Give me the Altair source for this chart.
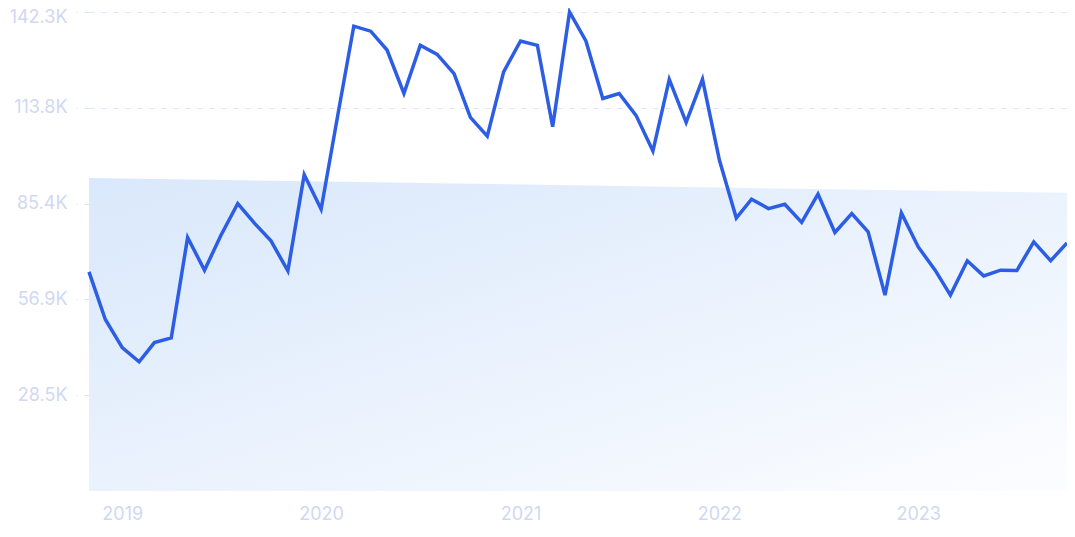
import altair as alt
import pandas as pd

# Monthly values, Nov 2018 .. Oct 2023
months = pd.date_range("2018-11-01", "2023-10-01", freq="MS").strftime("%Y-%m-%d").tolist()
values = [
    65100, 50950, 42600, 38400, 44100, 45500, 75300, 65600, 75900, 85400,
    79500, 74300, 65400, 94000, 83700, 112000, 138100, 136600, 131000, 118100,
    132400, 129700, 124000, 111000, 105400, 124500, 133700, 132400, 108200, 142300,
    133700, 116600, 118100, 111600, 101000, 122300, 109500, 122300, 98300, 81100,
    86700, 83900, 85200, 79800, 88200, 76800, 82400, 77000, 58200, 82600,
    72500, 65600, 58200, 68400, 63900, 65600, 65500, 74000, 68400, 73700,
]

# Trend band endpoints
trend_dates = ["2018-11-01", "2023-10-01"]
trend_values = [93000, 88600]

y_ticks = [28460, 56920, 85380, 113840, 142300]
year_ticks = [2019, 2020, 2021, 2022, 2023]

df = pd.DataFrame({"date": months, "value": values})
trend = pd.DataFrame({"date": trend_dates, "value": trend_values})

label_color = "#d0d8f2"
grid_color = "#dce3f6"

x_scale = alt.Scale(type="utc", domain=[months[0], months[-1]])
y_scale = alt.Scale(domain=[0, 142300], nice=False, zero=True)

x_axis = alt.Axis(
    values=[alt.DateTime(year=y, month=1, date=1, utc=True) for y in year_ticks],
    format="%Y",
    title=None,
    grid=False,
    domain=False,
    ticks=False,
    labelColor=label_color,
    labelFont="Inter",
    labelFontSize=18,
    labelPadding=14,
)
y_axis = alt.Axis(
    values=y_ticks,
    labelExpr="format(datum.value / 1000, '.1f') + 'K'",
    title=None,
    domain=False,
    ticks=True,
    tickSize=13,
    tickColor=grid_color,
    tickDash=[5, 7],
    tickWidth=1,
    grid=True,
    gridColor=grid_color,
    gridDash=[5, 7],
    gridWidth=1,
    labelColor=label_color,
    labelFont="Inter",
    labelFontSize=18,
    labelPadding=9,
    labelOffset={"condition": {"test": "datum.value >= 142300", "value": 5}, "value": 0},
)

area = alt.Chart(trend).mark_area(
    fill=alt.Gradient(
        gradient="linear",
        stops=[
            alt.GradientStop(color="#d9e8fb", offset=0),
            alt.GradientStop(color="#eaf2fd", offset=0.5),
            alt.GradientStop(color="#fcfdff", offset=1),
        ],
        x1=0, y1=0, x2=1, y2=1,
    ),
    line=False,
).encode(
    x=alt.X("date:T", scale=x_scale, axis=x_axis),
    y=alt.Y("value:Q", scale=y_scale, axis=y_axis),
)

line = alt.Chart(df).mark_line(color="#2c5de5", strokeWidth=3.5).encode(
    x=alt.X("date:T", scale=x_scale, axis=x_axis),
    y=alt.Y("value:Q", scale=y_scale, axis=y_axis),
)

chart = alt.layer(area, line).properties(
    width=978,
    height=479,
    padding={"left": 81, "top": 4, "right": 0, "bottom": 36},
    autosize=alt.AutoSizeParams(type="none"),
    background="white",
).configure_view(stroke=None)

chart.save("out.html", embed_options={"renderer": "svg", "actions": False})
